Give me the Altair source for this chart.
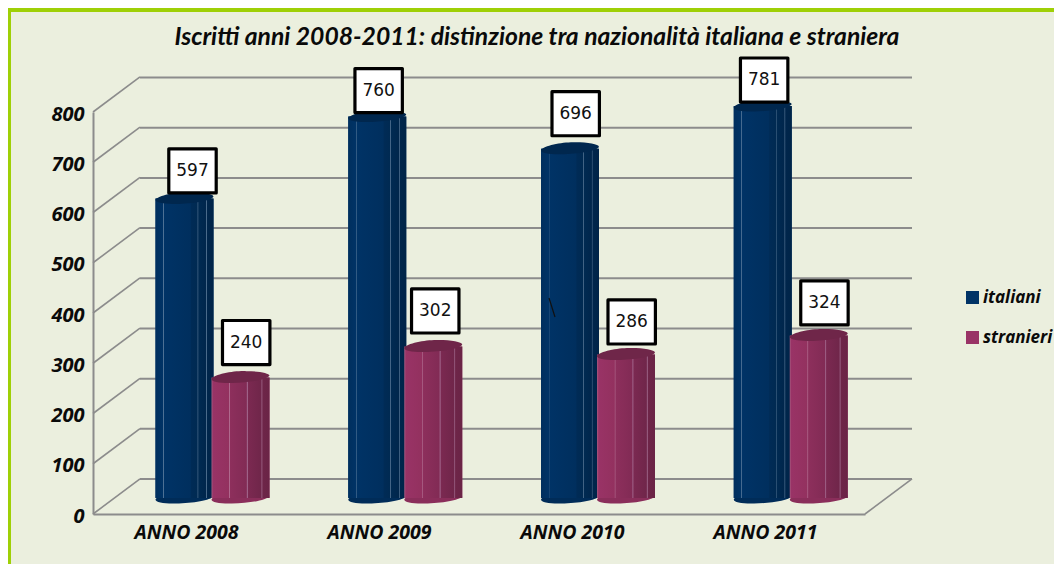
import altair as alt
import pandas as pd

anni = ["ANNO 2008", "ANNO 2009", "ANNO 2010", "ANNO 2011"]
serie = ["italiani", "stranieri"]
italiani = [597, 760, 696, 781]
stranieri = [240, 302, 286, 324]
tacche = [0, 100, 200, 300, 400, 500, 600, 700, 800]
titolo = ["Iscritti anni 2008-2011: distinzione tra nazionalità italiana e straniera"]

X0, Y0, W, H = 93, 112, 772, 402
FONT = "Open Sans"
GRIGIO = "#8c8c8c"

righe = pd.DataFrame(
    [{"anno": a, "serie": "italiani", "valore": v} for a, v in zip(anni, italiani)]
    + [{"anno": a, "serie": "stranieri", "valore": v} for a, v in zip(anni, stranieri)]
)
righe["base"] = 0
df_tacche = pd.DataFrame({"tacca": tacche})
df_anni = pd.DataFrame({"anno": anni})
profondita = pd.DataFrame(
    [{"tacca": t, "prof": p} for t in tacche for p in (0, 1)]
)


def grad(colori):
    return {
        "gradient": "linear", "x1": 0, "x2": 1, "y1": 0, "y2": 0,
        "stops": [{"offset": o, "color": c} for o, c in colori],
    }


G_BLU = grad([
    (0, "#002f5e"), (0.13, "#003366"), (0.135, "#5f7f9f"), (0.15, "#003366"),
    (0.6, "#002f5e"), (0.62, "#002b56"), (0.72, "#002a52"), (0.73, "#4f6f8f"),
    (0.745, "#002a52"), (0.87, "#00264c"), (0.88, "#4f6f8f"), (0.895, "#00264c"),
    (1, "#002448"),
])
G_VIOLA = grad([
    (0, "#a45a80"), (0.03, "#993366"), (0.3, "#93315f"), (0.31, "#b06a8e"), (0.325, "#8d2f5c"),
    (0.6, "#822b55"), (0.62, "#a0648a"), (0.635, "#7b2951"), (0.85, "#70264a"),
    (0.87, "#955a7d"), (0.885, "#6e2548"), (1, "#6a2446"),
])
CAPPELLO = ("M-1,0.05 C-0.9,-0.12 -0.2,-0.24 0.2,-0.22 C0.6,-0.22 1,-0.16 1,-0.06 "
            "C0.9,0.08 0.3,0.18 -0.3,0.19 C-0.7,0.2 -1,0.15 -1,0.05Z")
RETT = "M-1,-0.93H1V0.93H-1Z"


def sx(dx=0):
    inizio = 23.1 + dx
    return alt.Scale(domain=anni, range=[inizio, inizio + 771], paddingInner=0, paddingOuter=0)


def sy(base, cima):
    return alt.Scale(domain=[0, 800], range=[base - Y0, cima - Y0], zero=False, nice=False)


x_off = alt.XOffset("serie:N", scale=alt.Scale(domain=serie, range=[40.4, 152.4]))
Y_BAR = sy(498, 96.5)


def colonna(nome, sfumatura, fondo, cima):
    d = alt.Chart(righe).transform_filter(alt.datum.serie == nome)
    x = alt.X("anno:N", scale=sx(), axis=None)
    fondo_el = d.mark_point(shape=CAPPELLO, size=3364, filled=True, opacity=1, color=fondo).encode(
        x=x, xOffset=x_off, y=alt.Y("base:Q", scale=Y_BAR, axis=None))
    corpo = d.mark_bar(width=58, color=sfumatura).encode(
        x=x, xOffset=x_off, y=alt.Y("valore:Q", scale=Y_BAR, axis=None))
    tappo = d.mark_point(shape=CAPPELLO, size=3364, filled=True, opacity=1, color=cima).encode(
        x=x, xOffset=x_off, y=alt.Y("valore:Q", scale=Y_BAR, axis=None))
    return [fondo_el, corpo, tappo]


def etichette(valori, dx, dy):
    d = alt.Chart(righe).transform_filter(alt.FieldOneOfPredicate(field="valore", oneOf=valori))
    x = alt.X("anno:N", scale=sx(dx), axis=None)
    y = alt.Y("valore:Q", scale=sy(513.5 - dy, 112 - dy), axis=None)
    box = d.mark_point(shape=RETT, size=2248, filled=True, fill="white", stroke="black",
                       strokeWidth=3.2, opacity=1, strokeJoin="round").encode(x=x, xOffset=x_off, y=y)
    testo = d.mark_text(font="DejaVu Sans", fontSize=17, color="#111111", align="center",
                        baseline="middle").encode(x=x, xOffset=x_off, y=y, text="valore:Q")
    return [box, testo]


uno = alt.Chart(pd.DataFrame({"a": [0]}))
cornice = uno.mark_rect(color="#ebefde").encode(
    x=alt.value(-82), x2=alt.value(980), y=alt.value(-100), y2=alt.value(470))

intestazione = alt.Chart(pd.DataFrame({"t": titolo})).mark_text(
    font="Lato", fontSize=24.7, fontWeight="bold", fontStyle="italic", color="#0a0a0a",
    align="center", baseline="alphabetic").encode(x=alt.value(444), y=alt.value(-67), text="t:N")

griglia = alt.Chart(df_tacche).mark_rule(color=GRIGIO, strokeWidth=2).encode(
    x=alt.value(47), x2=alt.value(819),
    y=alt.Y("tacca:Q", scale=sy(479, 77.5), axis=None))

diag_sx = alt.Chart(profondita).transform_calculate(yy="datum.tacca + datum.prof * 69.7").mark_line(
    color=GRIGIO, strokeWidth=1.6).encode(
    x=alt.X("prof:Q", scale=alt.Scale(domain=[0, 1], range=[0, 47]), axis=None),
    y=alt.Y("yy:Q", scale=sy(514, 112), title=None,
            axis=alt.Axis(values=tacche, ticks=False, grid=False, domainColor=GRIGIO, domainWidth=2,
                          labelFont=FONT, labelFontWeight="bold", labelFontStyle="italic",
                          labelFontSize=20, labelColor="#0a0a0a", labelPadding=9, labelOffset=2,
                          orient="left", zindex=1)),
    detail="tacca:Q")

diag_dx = alt.Chart(profondita).transform_filter(alt.datum.tacca == 0).transform_calculate(
    yy="datum.tacca + datum.prof * 69.7").mark_line(color=GRIGIO, strokeWidth=1.6).encode(
    x=alt.X("prof:Q", scale=alt.Scale(domain=[0, 1], range=[W, W + 47]), axis=None),
    y=alt.Y("yy:Q", scale=sy(514, 112), axis=None))

asse_x = alt.Chart(df_anni).mark_rule(opacity=0).encode(
    x=alt.X("anno:N", scale=alt.Scale(domain=anni, range=[0, W], paddingInner=0, paddingOuter=0), title=None,
            axis=alt.Axis(ticks=False, grid=False, domainColor=GRIGIO, domainWidth=2, labelAngle=0,
                          labelFont=FONT, labelFontWeight="bold", labelFontStyle="italic",
                          labelFontSize=19.5, labelColor="#0a0a0a", labelPadding=9, labelOffset=-3,
                          orient="bottom", zindex=1)))

legenda = alt.Chart(righe).mark_bar(width=58).encode(
    x=alt.X("anno:N", scale=sx(), axis=None), xOffset=x_off,
    y=alt.Y("valore:Q", scale=Y_BAR, axis=None),
    color=alt.Color("serie:N", scale=alt.Scale(domain=serie, range=["#003366", "#993366"]),
                    legend=alt.Legend(orient="none", legendX=871, legendY=177, title=None,
                                      symbolType="square", symbolSize=169, rowPadding=22,
                                      labelFont=FONT, labelFontWeight="bold", labelFontStyle="italic",
                                      labelFontSize=17, labelColor="#0a0a0a", labelOffset=2,
                                      symbolStrokeWidth=0)))

segno = uno.mark_rule(color="#111111", strokeWidth=1.2).encode(
    x=alt.value(456), x2=alt.value(462), y=alt.value(186), y2=alt.value(205))

strati = (
    [cornice, griglia, diag_sx, diag_dx, asse_x, legenda]
    + colonna("italiani", G_BLU, "#002c58", "#00274e")
    + colonna("stranieri", G_VIOLA, "#8a2e5a", "#6f2649")
    + [segno]
    + etichette([597], 8, 43)
    + etichette([760, 781], 1.4, 41.5)
    + etichette([302], 2, 51)
    + etichette([696, 240], 5.7, 50.5)
    + etichette([286, 324], 5.7, 48)
    + [intestazione]
)

chart = alt.layer(*strati).resolve_scale(x="independent", y="independent", color="independent").properties(
    width=W, height=H,
    background="#9fd006",
    padding={"left": 85, "top": 104, "right": 189, "bottom": 50},
    autosize=alt.AutoSizeParams(type="none"),
).configure_view(stroke=None)

chart.save("out.html", embed_options={"renderer": "svg", "actions": False})
